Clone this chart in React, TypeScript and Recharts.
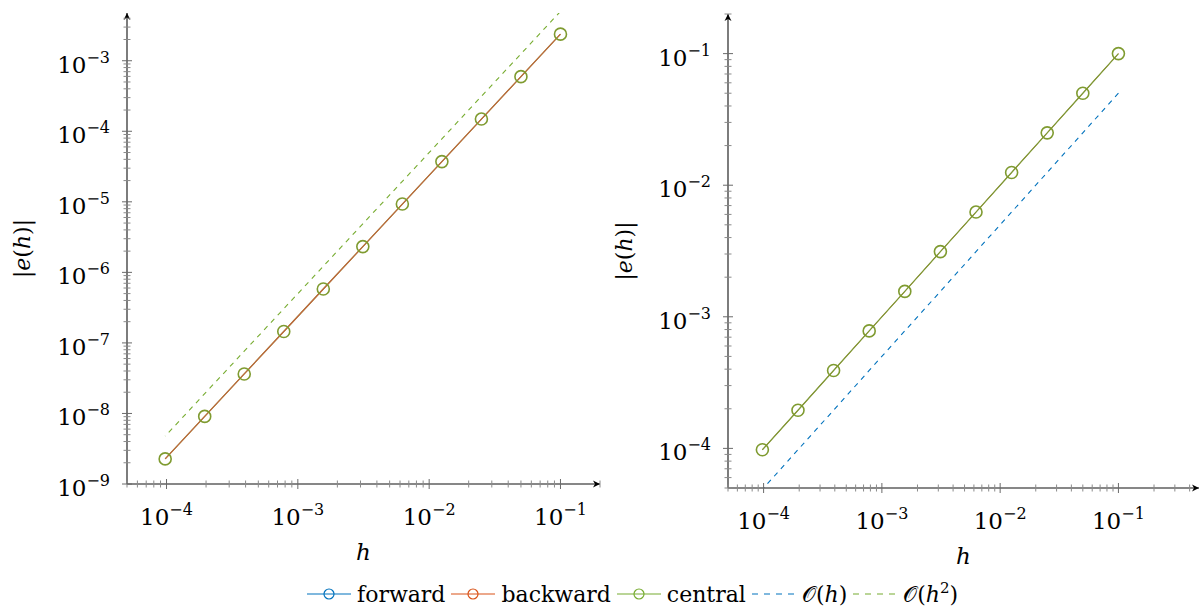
import React from "react";
import { LineChart, Line, XAxis, YAxis } from "recharts";

// step sizes h = 0.1 / 2^k
const H = [0.1, 0.05, 0.025, 0.0125, 0.00625, 0.003125, 0.0015625, 0.00078125, 0.000390625, 0.0001953125, 0.00009765625];

// left panel: second order errors
const leftCentral = [2.38e-3, 5.95e-4, 1.49e-4, 3.72e-5, 9.3e-6, 2.32e-6, 5.81e-7, 1.45e-7, 3.63e-8, 9.08e-9, 2.27e-9];
const leftBackward = [2.38e-3, 5.95e-4, 1.49e-4, 3.72e-5, 9.3e-6, 2.32e-6, 5.81e-7, 1.45e-7, 3.63e-8, 9.08e-9, 2.27e-9];
const leftRefH2 = [5.0e-3, 1.25e-3, 3.13e-4, 7.81e-5, 1.95e-5, 4.88e-6, 1.22e-6, 3.05e-7, 7.63e-8, 1.91e-8, 4.77e-9];

// right panel: first order errors
const rightBackward = [0.1, 0.05, 0.025, 0.0125, 6.25e-3, 3.13e-3, 1.56e-3, 7.81e-4, 3.91e-4, 1.95e-4, 9.77e-5];
const rightCentral = [0.1, 0.05, 0.025, 0.0125, 6.25e-3, 3.13e-3, 1.56e-3, 7.81e-4, 3.91e-4, 1.95e-4, 9.77e-5];
const rightRefH = [0.05, 0.025, 0.0125, 6.25e-3, 3.13e-3, 1.56e-3, 7.81e-4, 3.91e-4, 1.95e-4, 9.77e-5, 4.88e-5];

// major tick decades
const leftXMajor = [1e-4, 1e-3, 1e-2, 1e-1];
const leftYMajor = [1e-9, 1e-8, 1e-7, 1e-6, 1e-5, 1e-4, 1e-3];
const rightXMajor = [1e-4, 1e-3, 1e-2, 1e-1];
const rightYMajor = [1e-4, 1e-3, 1e-2, 1e-1];

const LEFT_X: [number, number] = [5e-5, 0.2];
const LEFT_Y: [number, number] = [1e-9, 4.75e-3];
const RIGHT_X: [number, number] = [5e-5, 0.48];
const RIGHT_Y: [number, number] = [5e-5, 0.2];

const BLUE = "#0072BD";
const RED = "#D95319";
const GREEN = "#77AC30";
const MARK = "#7f9b30";
const FONT = "'DejaVu Serif', serif";

const leftData = H.map((h, i) => ({ h, central: leftCentral[i], backward: leftBackward[i], ref: leftRefH2[i] }));
const rightData = H.map((h, i) => ({ h, backward: rightBackward[i], central: rightCentral[i], ref: rightRefH[i] }));

function withMinors(majors: number[], [lo, hi]: [number, number]) {
  const out: number[] = [];
  const first = majors[0] / 10;
  for (let d = first; d <= majors[majors.length - 1] * 10; d *= 10) {
    for (let m = 1; m <= 9; m++) {
      const v = +(d * m).toPrecision(6);
      if (v >= lo * 0.999 && v <= hi * 1.001) out.push(v);
    }
  }
  return out;
}

const isMajor = (v: number) => Math.abs(Math.log10(v) - Math.round(Math.log10(v))) < 1e-6;

function Pow({ v }: { v: number }) {
  return (
    <>
      10<tspan dy={-10} fontSize={16}>{"\u2212" + Math.abs(Math.round(Math.log10(v)))}</tspan>
    </>
  );
}

function XTick(props: any) {
  const { x, y, payload } = props;
  const major = isMajor(payload.value);
  const t = major ? 5 : 3.5;
  return (
    <g>
      <line x1={x} x2={x} y1={y - t} y2={y + t} stroke={major ? "#6a6a6a" : "#8a8a8a"} strokeWidth={1} />
      {major && (
        <text x={x} y={y + 41} textAnchor="middle" fontFamily={FONT} fontSize={23} fill="#000">
          <Pow v={payload.value} />
        </text>
      )}
    </g>
  );
}

function YTick(props: any) {
  const { x, y, payload } = props;
  const major = isMajor(payload.value);
  const t = major ? 5 : 3.5;
  return (
    <g>
      <line x1={x - t} x2={x + t} y1={y} y2={y} stroke={major ? "#6a6a6a" : "#8a8a8a"} strokeWidth={1} />
      {major && (
        <text x={x - 17} y={y + 12} textAnchor="end" fontFamily={FONT} fontSize={23} fill="#000">
          <Pow v={payload.value} />
        </text>
      )}
    </g>
  );
}

function YTitle(props: any) {
  const { viewBox, dx } = props;
  const cx = viewBox.x + dx;
  const cy = viewBox.y + viewBox.height / 2;
  return (
    <text x={cx} y={cy} transform={`rotate(-90 ${cx} ${cy})`} textAnchor="middle" dominantBaseline="central" fontFamily={FONT} fontSize={22} fill="#000">
      |<tspan fontStyle="italic">e</tspan>(<tspan fontStyle="italic">h</tspan>)|
    </text>
  );
}

function XTitle(props: any) {
  const { viewBox, dy } = props;
  return (
    <text x={viewBox.x + viewBox.width / 2} y={viewBox.y + dy} textAnchor="middle" fontFamily={FONT} fontSize={23} fontStyle="italic" fill="#000">
      h
    </text>
  );
}

const axisLine = { stroke: "#111", strokeWidth: 1.1, markerStart: "url(#axArrow)", markerEnd: "url(#axArrow)" };
const dot = { r: 6, stroke: MARK, strokeWidth: 1.6, fill: "none" };

function LeftPanel() {
  return (
    <LineChart width={610} height={570} data={leftData} margin={{ top: 13, right: 10, bottom: 0, left: 0 }}>
      <XAxis dataKey="h" type="number" scale="log" domain={LEFT_X} allowDataOverflow ticks={withMinors(leftXMajor, LEFT_X)} interval={0}
        tick={<XTick />} tickLine={false} tickSize={0} tickMargin={0} height={86} axisLine={{ ...axisLine, markerStart: undefined }}
        label={<XTitle dy={76} />} />
      <YAxis type="number" scale="log" domain={LEFT_Y} allowDataOverflow ticks={withMinors(leftYMajor, LEFT_Y)} interval={0}
        tick={<YTick />} tickLine={false} tickSize={0} tickMargin={0} width={127} axisLine={{ ...axisLine, markerEnd: undefined }}
        label={<YTitle dx={22} />} />
      <Line dataKey="ref" stroke={GREEN} strokeWidth={1.1} strokeDasharray="5 5" dot={false} isAnimationActive={false} />
      <Line dataKey="central" stroke={GREEN} strokeWidth={1.2} dot={dot} isAnimationActive={false} />
      <Line dataKey="backward" stroke="#c46240" strokeWidth={1.2} dot={false} isAnimationActive={false} />
    </LineChart>
  );
}

function RightPanel() {
  return (
    <LineChart width={591} height={570} data={rightData} margin={{ top: 14, right: 2, bottom: 0, left: 0 }}>
      <XAxis dataKey="h" type="number" scale="log" domain={RIGHT_X} allowDataOverflow ticks={withMinors(rightXMajor, RIGHT_X)} interval={0}
        tick={<XTick />} tickLine={false} tickSize={0} tickMargin={0} height={82} axisLine={{ ...axisLine, markerStart: undefined }}
        label={<XTitle dy={76} />} />
      <YAxis type="number" scale="log" domain={RIGHT_Y} allowDataOverflow ticks={withMinors(rightYMajor, RIGHT_Y)} interval={0}
        tick={<YTick />} tickLine={false} tickSize={0} tickMargin={0} width={118} axisLine={{ ...axisLine, markerEnd: undefined }}
        label={<YTitle dx={14} />} />
      <Line dataKey="ref" stroke={BLUE} strokeWidth={1.1} strokeDasharray="5 5" dot={false} isAnimationActive={false} />
      <Line dataKey="backward" stroke={RED} strokeWidth={1.0} dot={false} isAnimationActive={false} />
      <Line dataKey="central" stroke="#7d9a38" strokeWidth={1.3} dot={dot} isAnimationActive={false} />
    </LineChart>
  );
}

const legendItems = [
  { label: "forward", color: BLUE, dashed: false },
  { label: "backward", color: RED, dashed: false },
  { label: "central", color: GREEN, dashed: false },
  { label: "h", color: BLUE, dashed: true },
  { label: "h2", color: GREEN, dashed: true },
];

function LegendText({ label }: { label: string }) {
  if (label === "h") return <span>{"\u{1D4AA}"}(<i>h</i>)</span>;
  if (label === "h2") return <span>{"\u{1D4AA}"}(<i>h</i><sup style={{ fontSize: 15, verticalAlign: 9, lineHeight: 0 }}>2</sup>)</span>;
  return <span>{label}</span>;
}

export default function App() {
  return (
    <div style={{ position: "absolute", left: 0, top: 0, width: 1201, height: 613, background: "#fff", fontFamily: FONT }}>
      <svg width={0} height={0} style={{ position: "absolute" }}>
        <defs>
          <marker id="axArrow" viewBox="-8 -4 9 8" refX={0} refY={0} markerWidth={9} markerHeight={8} markerUnits="userSpaceOnUse" orient="auto-start-reverse">
            <path d="M0,0 L-7,-3.5 L-5,0 L-7,3.5 Z" fill="#000" />
          </marker>
        </defs>
      </svg>
      <div style={{ position: "absolute", left: 0, top: 0 }}>
        <LeftPanel />
      </div>
      <div style={{ position: "absolute", left: 610, top: 0 }}>
        <RightPanel />
      </div>
      <div style={{ position: "absolute", left: 307, top: 578, height: 32, display: "flex", alignItems: "center", fontSize: 22, color: "#000", whiteSpace: "nowrap" }}>
        {legendItems.map((it) => (
          <div key={it.label} style={{ display: "flex", alignItems: "center", marginRight: 6 }}>
            <svg width={44} height={14} style={{ marginRight: 6 }}>
              <line x1={0} x2={44} y1={7} y2={7} stroke={it.color} strokeWidth={1.2} strokeDasharray={it.dashed ? "6 6" : undefined} />
              {!it.dashed && <circle cx={22} cy={7} r={5} stroke={it.color} strokeWidth={1.2} fill="none" />}
            </svg>
            <LegendText label={it.label} />
          </div>
        ))}
      </div>
    </div>
  );
}
